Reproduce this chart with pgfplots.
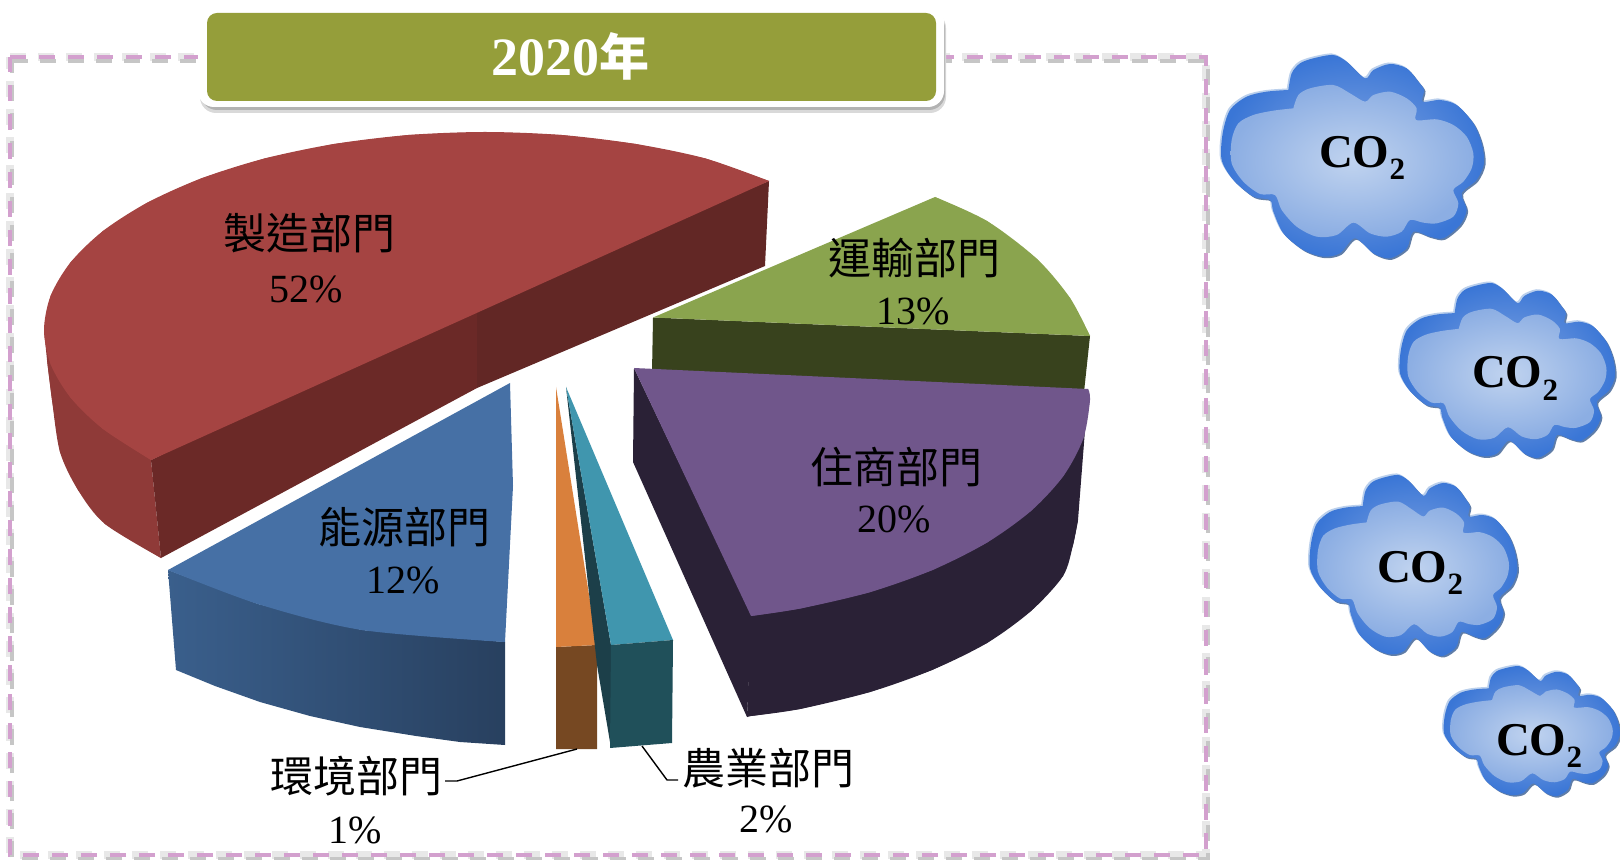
\documentclass[border=0pt]{standalone}
\usepackage{fontspec}
\usepackage{pgfplots}
\usepackage{pgfplotstable}
\pgfplotsset{compat=1.18}
\setmainfont{Liberation Serif}
\newfontfamily\cjk{Noto Sans CJK TC}
\definecolor{redtop}{HTML}{A54442}
\definecolor{redin}{HTML}{6B2927}
\definecolor{redin2}{HTML}{622725}
\definecolor{redout}{HTML}{8F3A38}
\definecolor{bluetop}{HTML}{4670A5}
\definecolor{blueL}{HTML}{3A5F8C}
\definecolor{blueR}{HTML}{28405F}
\definecolor{ortop}{HTML}{D9803C}
\definecolor{orside}{HTML}{764822}
\definecolor{tealtop}{HTML}{4096AE}
\definecolor{tealside}{HTML}{20505A}
\definecolor{tealdark}{HTML}{1C3F49}
\definecolor{purtop}{HTML}{70568B}
\definecolor{purside}{HTML}{2A2136}
\definecolor{grntop}{HTML}{8AA44E}
\definecolor{grnside}{HTML}{38421D}
\definecolor{titlegreen}{HTML}{959E3A}
\definecolor{framepink}{HTML}{D3A0CE}
\definecolor{cloudlight}{HTML}{BBD0EC}
\definecolor{clouddark}{HTML}{5F7DA8}
\definecolor{cloudout}{HTML}{3A76D6}
\definecolor{cloudmid}{HTML}{86A8E2}
\definecolor{cloudin}{HTML}{C0D3EF}
\definecolor{cloudrim}{HTML}{8CAEE3}
\pgfplotstableread{
x y
235 150
245 100
270 70
310 55
370 45
410 65
465 115
490 90
540 72
590 85
625 125
642 150
638 185
690 180
740 195
790 250
815 310
822 370
800 420
755 460
770 510
750 555
700 595
660 590
610 575
590 625
540 655
490 640
435 595
390 640
340 650
280 630
220 580
190 515
180 480
130 470
70 420
35 360
38 280
60 210
110 170
170 155
235 150
}\cout
\pgfplotstableread{
x y
250 205
265 165
300 145
370 135
420 160
465 185
490 165
540 155
590 175
620 205
618 240
680 238
730 255
770 290
790 340
785 385
760 425
730 450
745 490
730 530
680 550
640 548
600 540
575 575
530 590
480 580
430 548
380 585
320 590
260 560
215 510
195 465
150 462
100 425
65 370
65 300
85 250
130 225
190 212
250 205
}\cinn
\newcommand\cloud[4]{%
\addplot[fill=cloudlight,draw=none,smooth,tension=.5] table[x expr=\thisrow{x}*#3/3+#1-1.5,y expr=\thisrow{y}*#4/3+#2-1.5]{\cout};
\addplot[fill=clouddark,draw=none,smooth,tension=.5] table[x expr=\thisrow{x}*#3/3+#1+1.5,y expr=\thisrow{y}*#4/3+#2+1.5]{\cout};
\addplot[inner color=cloudmid,outer color=cloudout,draw=none,smooth,tension=.5] table[x expr=\thisrow{x}*#3/3+#1,y expr=\thisrow{y}*#4/3+#2]{\cout};
\addplot[inner color=cloudin,outer color=cloudrim,draw=none,smooth,tension=.5] table[x expr=\thisrow{x}*#3/3+#1,y expr=\thisrow{y}*#4/3+#2]{\cinn};
}
\newcommand\cotwo[2]{\node[anchor=base,inner sep=0pt,font=\fontsize{23.5}{23.5}\selectfont\bfseries] at (axis cs:#1,#2) {CO\raisebox{-6pt}{\fontsize{15.5}{15.5}\selectfont\bfseries 2}};}
\newcommand\lab[3]{\node[inner sep=0pt,font=\cjk\fontsize{21.5}{21.5}\selectfont] at (axis cs:#1,#2) {#3};}
\newcommand\pct[3]{\node[inner sep=0pt,font=\fontsize{20}{20}\selectfont] at (axis cs:#1,#2) {#3};}
\begin{document}
\begin{tikzpicture}
\begin{axis}[
  scale only axis, width=810pt, height=430pt,
  xmin=0, xmax=1620, ymin=0, ymax=860, y dir=reverse,
  hide axis, clip=true,
]
\coordinate (SW) at (rel axis cs:0,0);
\coordinate (NE) at (rel axis cs:1,1);
% frame
\addplot[gray!18,line width=4pt,no marks,dash pattern=on 8pt off 6pt] coordinates {(10,57)(1206,57)(1206,855)(10,855)(10,57)};
\addplot[gray!45,line width=2pt,no marks,dash pattern=on 8pt off 6pt] coordinates {(12,61)(1208,61)(1208,859)(12,859)(12,61)};
\addplot[framepink,line width=2pt,no marks,dash pattern=on 8pt off 6.5pt] coordinates {(10,57)(1206,57)(1206,855)(10,855)(10,57)};
% red
\addplot[fill=redout,draw=none] coordinates {(44,330)(47,360)(52,400)(60,452)(78,490)(105,524)(161,558)(151,460)};
\addplot[fill=redout,draw=none,smooth] coordinates {(47,360)(52,400)(60,452)(78,490)(105,524)(161,558)};
\addplot[fill=redin,draw=none] coordinates {(151,460)(477,298)(477,388)(161,558)};
\addplot[fill=redin2,draw=none] coordinates {(477,298)(769,181)(765,266)(477,388)};
\addplot[fill=redtop,draw=none] coordinates {(769,181)(705.5,158.5)(635.8,144)(561.6,135)(485,132)(408.4,135)(334,144)(264.5,158.5)(201.5,178.3)(147.2,202.7)(103,231)(70.6,262.3)(50.7,295.6)(44,330)(50.7,364.4)(70.6,397.7)(103,429)(151,460)(477,298)};
\addplot[fill=redtop,draw=none,smooth] coordinates {(769,181)(705.5,158.5)(635.8,144)(561.6,135)(485,132)(408.4,135)(334,144)(264.5,158.5)(201.5,178.3)(147.2,202.7)(103,231)(70.6,262.3)(50.7,295.6)(44,330)(50.7,364.4)(70.6,397.7)(103,429)(151,460)};
% green
\addplot[fill=grnside,draw=none] coordinates {(653,317.5)(1090,336)(1084,392)(652,372)};
\addplot[fill=grntop,draw=none] coordinates {(653,317.5)(935,197)(987,221)(1037,259)(1070,298)(1090,336)};
\addplot[fill=grntop,draw=none,smooth] coordinates {(935,197)(987,221)(1037,259)(1070,298)(1090,336)};
% blue
\addplot[left color=blueL,right color=blueR,draw=none] coordinates {(168,570)(258,604)(362,630)(505,642)(505,745)(460,742)(416,736)(360,727)(310,716)(260,702)(215,686)(176,670)};
\addplot[fill=bluetop,draw=none] coordinates {(510,383)(513,486)(505,642)(362,630)(258,604)(168,570)};
\addplot[fill=bluetop,draw=none,smooth] coordinates {(505,642)(362,630)(258,604)(168,570)};
% orange
\addplot[fill=orside,draw=none] coordinates {(556,647)(597,645)(597,749)(556,749)};
\addplot[fill=ortop,draw=none] coordinates {(556,387)(597,645)(556,647)};
% teal
\addplot[fill=tealdark,draw=none] coordinates {(566,387)(611,645)(611,748)(597,665)};
\addplot[fill=tealtop,draw=none] coordinates {(566,387)(673,640)(611,645)};
\addplot[fill=tealside,draw=none] coordinates {(611,645)(673,640)(672,743)(610,748)};
% purple
\addplot[fill=purside,draw=none] coordinates {(634,368)(633,462)(747,717)(752,616)};
\addplot[fill=purside,draw=none] coordinates {(751,616)(1085,430)(1078,520)(1073,545)(1063,576)(1031,611)(987,643)(932,670)(870,692)(800,709)(751,716)(747,717)};
\addplot[fill=purside,draw=none,smooth] coordinates {(1078,520)(1073,545)(1063,576)(1031,611)(987,643)(932,670)(870,692)(800,709)(751,716)};
\addplot[fill=purtop,draw=none] coordinates {(634,368)(1088,389)(1090,400)(1083.3,438.5)(1063.4,476)(1030.9,511)(986.8,542.7)(932.5,570)(869.5,592.3)(799.8,608.6)(751,616)};
\addplot[fill=purtop,draw=none,smooth] coordinates {(1088,389)(1090,400)(1083.3,438.5)(1063.4,476)(1030.9,511)(986.8,542.7)(932.5,570)(869.5,592.3)(799.8,608.6)(751,616)};
% leaders
\addplot[black,line width=.7pt,no marks] coordinates {(445,781)(457,781)(577,749)};
\addplot[black,line width=.7pt,no marks] coordinates {(642,746)(667,780)(678,780)};
% clouds
\cloud{1210}{40}{1}{1}
\cloud{1390.4}{270.1}{.82}{.86}
\cloud{1300.8}{461.6}{.79}{.89}
\cloud{1436.2}{656.4}{.67}{.64}
\cotwo{1362}{168}
\cotwo{1515}{388}
\cotwo{1420}{582}
\cotwo{1539}{755}
% title box
\fill[gray!30,rounded corners=8pt] (axis cs:200,12) rectangle (axis cs:946,113);
\fill[gray!60,rounded corners=8pt] (axis cs:201,12) rectangle (axis cs:945,110);
\fill[white,rounded corners=8pt] (axis cs:198,5) rectangle (axis cs:944,107);
\fill[titlegreen,rounded corners=5pt] (axis cs:207,13) rectangle (axis cs:936,101);
\node[inner sep=0pt,text=white,anchor=base,font=\fontsize{27}{27}\selectfont\bfseries] at (axis cs:570,76) {2020{\cjk\fontsize{25}{25}\selectfont\bfseries 年}};
% labels
\lab{309}{233}{製造部門}\pct{306}{289}{52\%}
\lab{914}{258}{運輸部門}\pct{913}{311}{13\%}
\lab{896}{467}{住商部門}\pct{894}{519}{20\%}
\lab{404}{527}{能源部門}\pct{403}{580}{12\%}
\lab{356}{776}{環境部門}\pct{355}{830}{1\%}
\lab{768}{768}{農業部門}\pct{766}{819}{2\%}
\end{axis}
\pgfresetboundingbox
\path[use as bounding box] (SW) rectangle (NE);
\end{tikzpicture}
\end{document}
